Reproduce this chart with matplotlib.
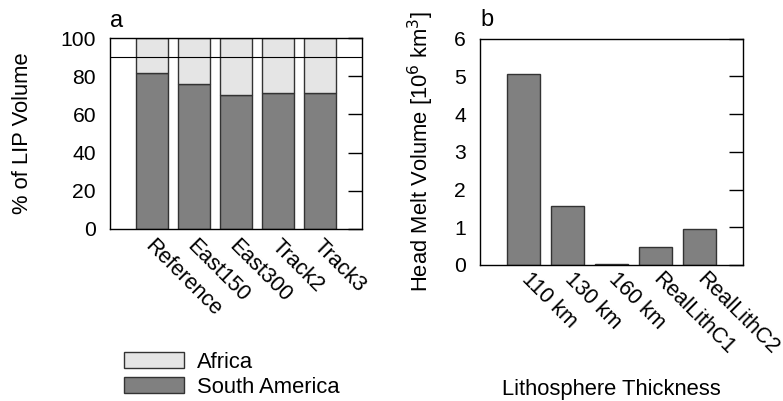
import matplotlib.pyplot as plt
import matplotlib.patches as mpatches
import matplotlib.transforms as mtransforms
import numpy as np

plt.rcParams['font.family'] = ['Liberation Sans', 'DejaVu Sans']
plt.rcParams['font.size'] = 15.8

# panel a data
models = ['Reference', 'East150', 'East300', 'Track2', 'Track3']
south_america = [81.8, 75.9, 70.3, 71.2, 71.2]
africa = [100 - v for v in south_america]

# panel b data
lith = ['110 km', '130 km', '160 km', 'RealLithC1', 'RealLithC2']
melt = [5.05, 1.56, 0.03, 0.49, 0.96]

dark = '#808080'
light = '#e5e5e5'
edge = '#333333'

fig = plt.figure(figsize=(7.83, 4.01), dpi=100)
W, H = 783, 401
ax1 = fig.add_axes([110 / W, 1 - 229 / H, 252 / W, 191 / H])
ax2 = fig.add_axes([480 / W, 1 - 265 / H, 263 / W, 226.5 / H])

x = np.arange(1, 6)
ax1.bar(x, south_america, width=0.76, color=dark, edgecolor=edge, linewidth=1.0)
ax1.bar(x, africa, width=0.76, bottom=south_america, color=light, edgecolor=edge, linewidth=1.0)
ax1.axhline(90, color='black', linewidth=0.8)
ax1.set_xlim(0, 6)
ax1.set_ylim(0, 100)
ax1.set_yticks([0, 20, 40, 60, 80, 100])
ax1.set_xticks(x)
ax1.set_xticklabels(models, rotation=-45, ha='left', va='top', rotation_mode='anchor', fontsize=15.5)
ax1.set_ylabel('% of LIP Volume', va='center')
ax1.yaxis.set_label_coords((22 - 110) / 252, 0.5)

ax2.bar(x, melt, width=0.76, color=dark, edgecolor=edge, linewidth=1.0)
ax2.set_xlim(0, 6)
ax2.set_ylim(0, 6)
ax2.set_yticks(range(7))
ax2.set_xticks(x)
ax2.set_xticklabels(lith, rotation=-45, ha='left', va='top', rotation_mode='anchor', fontsize=15.5)
ax2.set_ylabel('Head Melt Volume [10$^6$ km$^3$]', va='center')
ax2.yaxis.set_label_coords((421 - 480) / 263, 0.5)
ax2.set_xlabel('Lithosphere Thickness', va='center')
ax2.xaxis.set_label_coords(0.5, -(390 - 265) / 226.5)

fig.text(110 / W, 1 - 21 / H, 'a', ha='left', va='center', fontsize=17)
fig.text(480 / W, 1 - 20 / H, 'b', ha='left', va='center', fontsize=17)

shifts = {ax1: (4, 3), ax2: (8, 6)}
for ax in (ax1, ax2):
    ax.tick_params(axis='x', length=0, pad=7)
    ax.tick_params(axis='y', length=0, pad=10, labelsize=15.2)
    ax.tick_params(axis='y', which='both', right=True, direction='in')
    for sp in ax.spines.values():
        sp.set_linewidth(1.0)
    # right-side inward ticks only
    for t in ax.yaxis.get_major_ticks():
        t.tick2line.set_markersize(10)
        t.tick2line.set_markeredgewidth(1.0)
        t.tick2line.set_color('#555555')
    dx, dy = shifts[ax]
    off = mtransforms.ScaledTranslation(dx / 100, dy / 100, fig.dpi_scale_trans)
    for lab in ax.get_xticklabels():
        lab.set_transform(lab.get_transform() + off)

handles = [mpatches.Patch(facecolor=light, edgecolor=edge, linewidth=1.0, label='Africa'),
           mpatches.Patch(facecolor=dark, edgecolor=edge, linewidth=1.0, label='South America')]
fig.legend(handles=handles, loc='upper left', bbox_to_anchor=(115 / W, 1 - 343 / H),
           frameon=False, handlelength=2.75, handleheight=0.75, labelspacing=0.18,
           handletextpad=0.6, borderaxespad=0)

fig.savefig('out.png', dpi=100)
